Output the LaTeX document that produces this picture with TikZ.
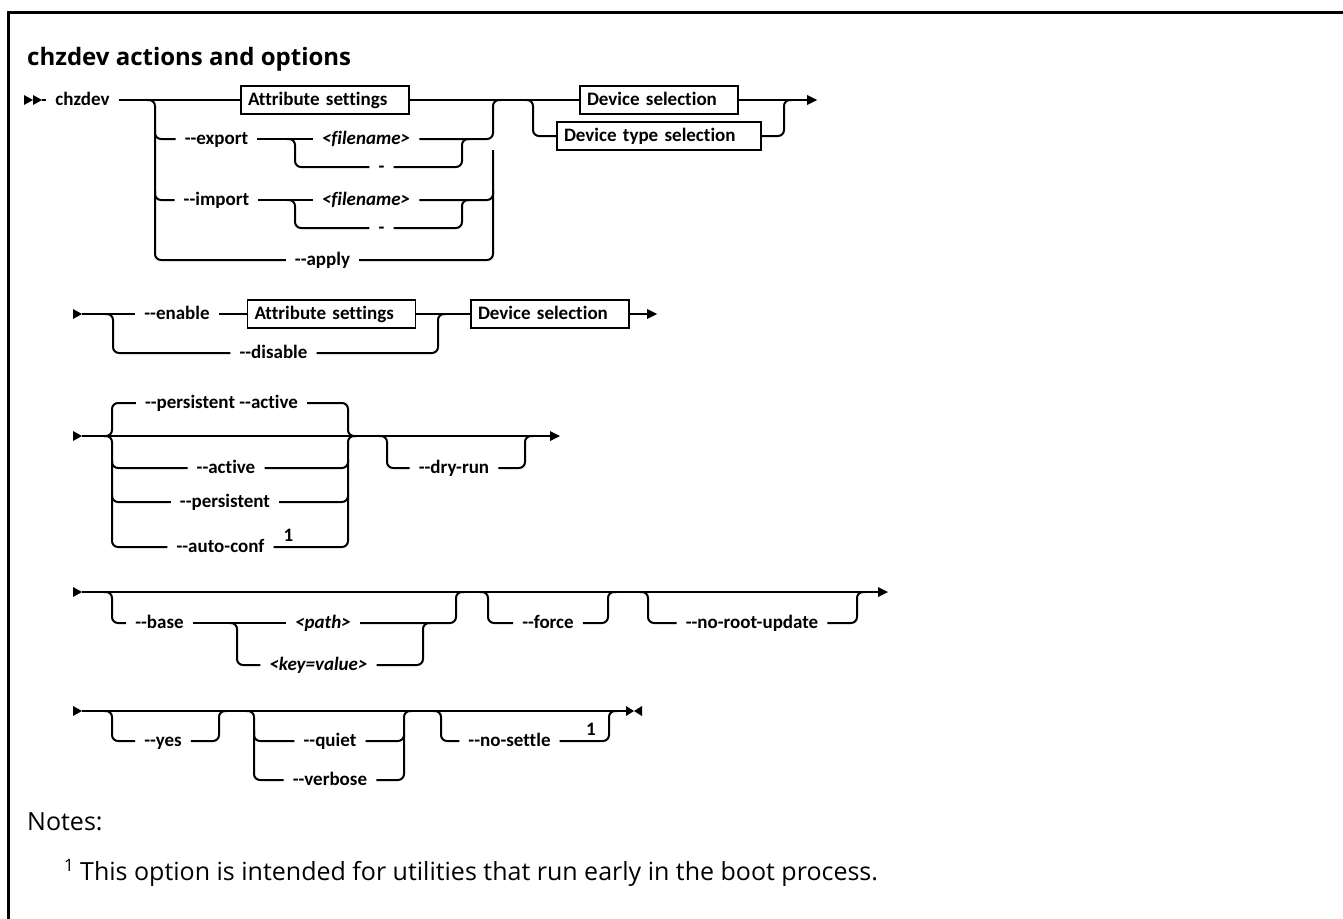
\documentclass[tikz,border=0pt]{standalone}
\usepackage{fontspec}
\newfontfamily\lblf[Ligatures=NoCommon]{Carlito}
\newfontfamily\ttlf{Open Sans}
\begin{document}
\begin{tikzpicture}[x=1pt,y=-1pt,
  rr/.style={line width=2pt, rounded corners=6pt},
  lbl/.style={font=\lblf\bfseries\fontsize{19}{21}\selectfont, anchor=center, inner xsep=9pt, inner ysep=0pt, text height=10pt, text depth=0pt},
  ilbl/.style={lbl, font=\lblf\bfseries\itshape\fontsize{19}{21}\selectfont},
  supnum/.style={font=\lblf\bfseries\fontsize{19}{21}\selectfont, inner sep=0pt},
  syntaxbox/.style={draw, line width=1.8pt, font=\lblf\bfseries\fontsize{19}{21}\selectfont,
     inner xsep=7pt, inner ysep=0pt, align=left, minimum height=28pt, text height=15pt, text depth=4pt},
  notefont/.style={font=\ttlf\fontsize{25}{29}\selectfont, inner sep=0pt}
]
\useasboundingbox (0,0) rectangle (1343,918);
% frame
\draw[line width=3pt] (8,930) -- (8,12) -- (1350,12);
% title
\node[anchor=base west, inner sep=0pt, font=\ttlf\bfseries\fontsize{24}{28}\selectfont] (title) at (27,65) {chzdev actions and options};

% ---------------- Row 1 ----------------
\fill (24,95) -- (33,100) -- (24,105) -- cycle;
\fill (33,95) -- (42,100) -- (33,105) -- cycle;
\coordinate (s1) at (42,100);
\node[lbl] (chz) at (82.5,100) {chzdev};
\node[syntaxbox, text width=154pt] (attr1) at (325,100) {Attribute settings};
\node[lbl] (exp) at (216.5,139) {--export};
\node[ilbl] (fn1) at (366,139) {<filename>};
\node[lbl] (d1) at (381.5,167) {-};
\node[lbl] (imp) at (216.5,200) {--import};
\node[ilbl] (fn2) at (366,200) {<filename>};
\node[lbl] (d2) at (381.5,228) {-};
\node[lbl] (apl) at (322.5,260) {--apply};
\node[syntaxbox, text width=144pt] (dev1) at (659,100) {Device selection};
\node[syntaxbox, text width=190pt] (devt1) at (659,136) {Device type selection};
\coordinate (e1) at (807,100);
\fill (807,95) -- (817,100) -- (807,105) -- cycle;

\draw[rr] (s1) -- (chz.west);
\draw[rr] (chz.east) -- (attr1.west);
\draw[rr] (147,100) -- (155,100) -- (155,139) -- (exp.west);
\draw[rr] (155,130) -- (155,200) -- (imp.west);
\draw[rr] (155,190) -- (155,260) -- (apl.west);
\draw[rr] (exp.east) -- (fn1.west);
\draw[rr] (287,139) -- (295,139) -- (295,167) -- (d1.west);
\draw[rr] (d1.east) -- (462,167) -- (462,139) -- (470,139);
\draw[rr] (fn1.east) -- (493,139) -- (493,100) -- (501,100);
\draw[rr] (imp.east) -- (fn2.west);
\draw[rr] (287,200) -- (295,200) -- (295,228) -- (d2.west);
\draw[rr] (d2.east) -- (462,228) -- (462,200) -- (470,200);
\draw[rr] (fn2.east) -- (493,200) -- (493,150);
\draw[rr] (apl.east) -- (493,260) -- (493,190);
\draw[rr] (attr1.east) -- (dev1.west);
\draw[rr] (525,100) -- (533,100) -- (533,136) -- (devt1.west);
\draw[rr] (devt1.east) -- (784,136) -- (784,100) -- (792,100);
\draw[rr] (dev1.east) -- (e1);

% ---------------- Row 2 ----------------
\fill (73,309) -- (82,314) -- (73,319) -- cycle;
\coordinate (s2) at (82,314);
\node[lbl] (en) at (177,314) {--enable};
\node[lbl] (dis) at (273.5,353) {--disable};
\node[syntaxbox, text width=154pt] (attr2) at (331.5,314) {Attribute settings};
\node[syntaxbox, text width=144pt] (dev2) at (550,314) {Device selection};
\coordinate (e2) at (647,314);
\fill (647,309) -- (657,314) -- (647,319) -- cycle;
\draw[rr] (s2) -- (en.west);
\draw[rr] (105,314) -- (113,314) -- (113,353) -- (dis.west);
\draw[rr] (en.east) -- (attr2.west);
\draw[rr] (attr2.east) -- (dev2.west);
\draw[rr] (dis.east) -- (438,353) -- (438,314) -- (446,314);
\draw[rr] (dev2.east) -- (e2);

% ---------------- Row 3 ----------------
\fill (73,431) -- (82,436) -- (73,441) -- cycle;
\coordinate (s3) at (82,436);
\coordinate (e3) at (550,436);
\fill (550,431) -- (560,436) -- (550,441) -- cycle;
\node[lbl] (pa) at (221.5,403) {--persistent --active};
\node[lbl] (act) at (226,468) {--active};
\node[lbl] (per) at (225,502) {--persistent};
\node[lbl] (auto) at (220.5,547) {--auto-conf};
\node[supnum] (n1a) at (288.5,535) {1};
\node[lbl] (dry) at (454,468) {--dry-run};
\draw[rr] (s3) -- (e3);
\draw[rr] (104,436) -- (112,436) -- (112,403) -- (pa.west);
\draw[rr] (pa.east) -- (348,403) -- (348,436) -- (356,436);
\draw[rr] (104,436) -- (112,436) -- (112,468) -- (act.west);
\draw[rr] (112,460) -- (112,502) -- (per.west);
\draw[rr] (112,495) -- (112,547) -- (auto.west);
\draw[rr] (act.east) -- (348,468) -- (348,436) -- (356,436);
\draw[rr] (per.east) -- (348,502) -- (348,460);
\draw[rr] (auto.east) -- (348,547) -- (348,495);
\draw[rr] (379,436) -- (387,436) -- (387,468) -- (dry.west);
\draw[rr] (dry.east) -- (525,468) -- (525,436) -- (533,436);

% ---------------- Row 4 ----------------
\fill (73,587) -- (82,592) -- (73,597) -- cycle;
\coordinate (s4) at (82,592);
\coordinate (e4) at (878,592);
\fill (878,587) -- (888,592) -- (878,597) -- cycle;
\node[lbl] (base) at (159.5,623) {--base};
\node[ilbl] (path) at (323,623) {<path>};
\node[ilbl] (kv) at (318.5,665) {<key=value>};
\node[lbl] (force) at (548,623) {--force};
\node[lbl] (nru) at (752,623) {--no-root-update};
\draw[rr] (s4) -- (e4);
\draw[rr] (104,592) -- (112,592) -- (112,623) -- (base.west);
\draw[rr] (base.east) -- (path.west);
\draw[rr] (229,623) -- (237,623) -- (237,665) -- (kv.west);
\draw[rr] (kv.east) -- (423,665) -- (423,623) -- (431,623);
\draw[rr] (path.east) -- (456,623) -- (456,592) -- (464,592);
\draw[rr] (480,592) -- (488,592) -- (488,623) -- (force.west);
\draw[rr] (force.east) -- (608,623) -- (608,592) -- (616,592);
\draw[rr] (640,592) -- (648,592) -- (648,623) -- (nru.west);
\draw[rr] (nru.east) -- (857,623) -- (857,592) -- (865,592);

% ---------------- Row 5 ----------------
\fill (73,706) -- (82,711) -- (73,716) -- cycle;
\coordinate (s5) at (82,711);
\coordinate (e5) at (626,711);
\fill (626,706) -- (634,711) -- (626,716) -- cycle;
\fill (642,706) -- (634,711) -- (642,716) -- cycle;
\node[lbl] (yes) at (163,741) {--yes};
\node[lbl] (qt) at (330,741) {--quiet};
\node[lbl] (vb) at (330,780) {--verbose};
\node[lbl] (ns) at (509.5,741) {--no-settle};
\node[supnum] (n1b) at (591,729) {1};
\draw[rr] (s5) -- (e5);
\draw[rr] (104,711) -- (112,711) -- (112,741) -- (yes.west);
\draw[rr] (yes.east) -- (219,741) -- (219,711) -- (227,711);
\draw[rr] (246,711) -- (254,711) -- (254,741) -- (qt.west);
\draw[rr] (254,730) -- (254,780) -- (vb.west);
\draw[rr] (qt.east) -- (404,741) -- (404,711) -- (412,711);
\draw[rr] (vb.east) -- (404,780) -- (404,735);
\draw[rr] (433,711) -- (441,711) -- (441,741) -- (ns.west);
\draw[rr] (ns.east) -- (609,741) -- (609,711) -- (617,711);

% ---------------- Notes ----------------
\node[notefont, anchor=base west] (notes) at (27,830) {Notes:};
\node[notefont, anchor=base west] (fnote) at (80,880) {This option is intended for utilities that run early in the boot process.};
\node[inner sep=0pt, anchor=base east, font=\ttlf\fontsize{17}{20}\selectfont] (fnum) at ([xshift=-6pt]fnote.base west |- 0,871) {1};
\end{tikzpicture}
\end{document}
